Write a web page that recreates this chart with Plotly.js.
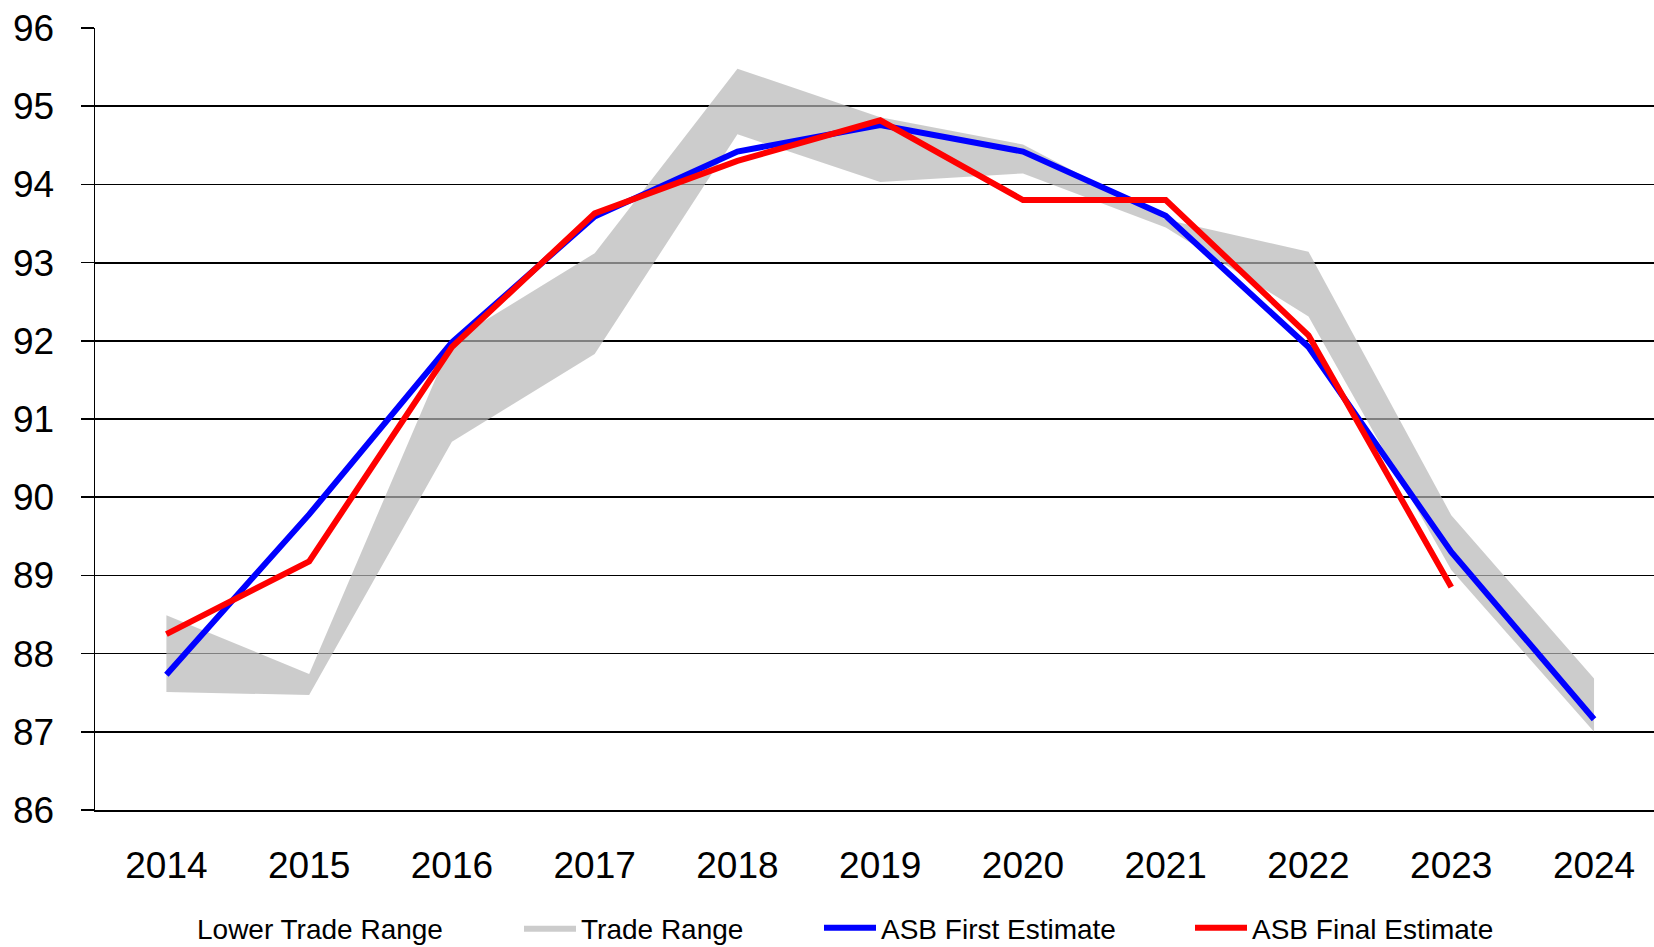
<!DOCTYPE html>
<html>
<head>
<meta charset="utf-8">
<script src="https://cdn.plot.ly/plotly-3.0.1.min.js"></script>
<style>
  html, body { margin: 0; padding: 0; background: #fff; }
  #chart { width: 1654px; height: 947px; }
</style>
</head>
<body>
<div id="chart"></div>
<script>
const years = ["2014", "2015", "2016", "2017", "2018", "2019", "2020", "2021", "2022", "2023", "2024"];
const lowerTradeRange = [87.51, 87.47, 90.71, 91.83, 94.64, 94.03, 94.14, 93.45, 92.31, 89.07, 87.00];
const upperTradeRange = [88.49, 87.74, 92.00, 93.12, 95.48, 94.86, 94.51, 93.55, 93.14, 89.77, 87.68];
const asbFirstEstimate = [87.73, 89.78, 91.98, 93.59, 94.42, 94.76, 94.42, 93.60, 91.92, 89.30, 87.16];
const asbFinalEstimate = [88.25, 89.18, 91.92, 93.63, 94.30, 94.82, 93.80, 93.80, 92.07, 88.85, null];
const yTicks = [86, 87, 88, 89, 90, 91, 92, 93, 94, 95, 96];

const FONT = "Liberation Sans, Arial, sans-serif";

const traces = [
  {
    type: "scatter", mode: "lines", name: "Lower Trade Range",
    x: years, y: lowerTradeRange,
    line: { width: 0, color: "rgba(0,0,0,0)" },
    hoverinfo: "skip", legend: "legend"
  },
  {
    type: "scatter", mode: "lines", name: "Trade Range",
    x: years, y: upperTradeRange,
    fill: "tonexty", fillcolor: "rgba(183,183,183,0.7)",
    line: { width: 0, color: "rgba(0,0,0,0)" },
    hoverinfo: "skip", legend: "legend2"
  },
  {
    type: "scatter", mode: "lines", name: "ASB First Estimate",
    x: years, y: asbFirstEstimate,
    line: { width: 6, color: "#0000ff" },
    legend: "legend3"
  },
  {
    type: "scatter", mode: "lines", name: "ASB Final Estimate",
    x: years, y: asbFinalEstimate,
    line: { width: 6, color: "#ff0000" },
    connectgaps: false,
    legend: "legend4"
  }
];

const legendFont = { family: FONT, size: 28, color: "#000" };
function leg(pxX) {
  return { x: pxX / 1654, y: 19 / 947, xref: "container", yref: "container",
           xanchor: "left", yanchor: "middle", orientation: "h", itemwidth: 52,
           font: legendFont, bgcolor: "rgba(0,0,0,0)", borderwidth: 0 };
}

const layout = {
  width: 1654, height: 947,
  margin: { l: 95.3, r: 0, t: 28, b: 137, pad: 0 },
  paper_bgcolor: "#fff", plot_bgcolor: "#fff",
  font: { family: FONT, color: "#000" },
  showlegend: true,
  legend: leg(135),
  legend2: leg(519),
  legend3: leg(819),
  legend4: leg(1190),
  xaxis: {
    type: "category",
    range: [-0.5, 10.42],
    showgrid: false, zeroline: false,
    showline: true, linecolor: "#000", linewidth: 1.8,
    ticks: "", ticklabelstandoff: 22,
    tickfont: { family: FONT, size: 37, color: "#000" },
    fixedrange: true
  },
  yaxis: {
    range: [86, 96],
    tickvals: yTicks, ticktext: yTicks.map(String),
    showgrid: true, gridcolor: "#000", gridwidth: 1.8,
    zeroline: false,
    showline: true, linecolor: "#000", linewidth: 1.5,
    ticks: "outside", ticklen: 13, tickwidth: 1.5, tickcolor: "#000",
    ticklabelstandoff: 19,
    tickfont: { family: FONT, size: 37, color: "#000" },
    fixedrange: true
  }
};

Plotly.newPlot("chart", traces, layout, { displayModeBar: false, staticPlot: true });
</script>
</body>
</html>
